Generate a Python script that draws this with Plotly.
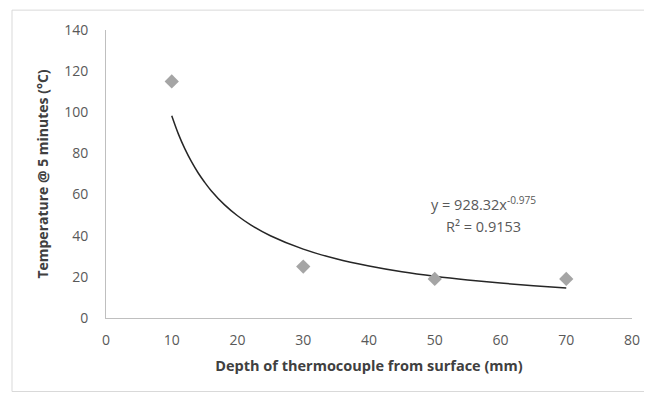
import plotly.graph_objects as go

# Measured data
depth_mm = [10, 30, 50, 70]
temp_c = [115, 25, 19, 19]

# Trendline (power fit) values
trend_x = [10, 11, 12, 13, 14, 15, 16, 18, 20, 22, 25, 30, 35, 40, 45, 50, 55, 60, 65, 70]
trend_y = [98.3, 89.5, 82.2, 76.0, 70.6, 66.0, 61.9, 55.1, 49.7, 45.3, 40.0, 33.5,
           28.8, 25.3, 22.5, 20.3, 18.5, 17.0, 15.7, 14.6]

x_ticks = [0, 10, 20, 30, 40, 50, 60, 70, 80]
y_ticks = [0, 20, 40, 60, 80, 100, 120, 140]

eq_text = "y = 928.32x<sup>-0.975</sup>"
r2_text = "R² = 0.9153"

FONT = "Open Sans, Liberation Sans, sans-serif"
GRAY = "#595959"

# page body has an 8px margin; figure is sized/placed to compensate
W, H = 644, 392
L, R, T, B = 98, 20, 20, 82
PW, PH = W - L - R, H - T - B

fig = go.Figure()
fig.add_trace(go.Scatter(
    x=trend_x, y=trend_y, mode="lines",
    line=dict(color="#262626", width=1.5, shape="spline"),
    hoverinfo="skip", showlegend=False))
fig.add_trace(go.Scatter(
    x=depth_mm, y=temp_c, mode="markers",
    marker=dict(symbol="diamond", size=11, color="#a5a5a5"),
    showlegend=False))

fig.add_annotation(x=57.4, y=55.5, xref="x", yref="y", text=eq_text,
                   showarrow=False, font=dict(family=FONT, size=14.5, color=GRAY))
fig.add_annotation(x=57.4, y=44.5, xref="x", yref="y", text=r2_text,
                   showarrow=False, font=dict(family=FONT, size=14.5, color=GRAY))

# outer chart border
fig.add_shape(type="rect", xref="paper", yref="paper",
              x0=(4 - L) / PW, x1=(W + 10 - L) / PW,
              y0=(T + PH - 384) / PH, y1=(T + PH - 0) / PH,
              line=dict(color="#d9d9d9", width=1), layer="below")

fig.update_layout(
    width=W, height=H,
    margin=dict(l=L, r=R, t=T, b=B),
    paper_bgcolor="white", plot_bgcolor="white",
    font=dict(family=FONT, size=14, color=GRAY),
    xaxis=dict(range=[0, 80], tickvals=x_ticks, showgrid=False, zeroline=False,
               showline=True, linecolor="#bfbfbf", linewidth=1, ticks="",
               ticklabelstandoff=9,
               tickfont=dict(size=14, color=GRAY),
               title=dict(text="<b>Depth of thermocouple from surface (mm)</b>",
                          font=dict(size=14.5, color="#404040"), standoff=13)),
    yaxis=dict(range=[0, 140], tickvals=y_ticks, showgrid=False, zeroline=False,
               showline=True, linecolor="#bfbfbf", linewidth=1, ticks="",
               ticklabelstandoff=14,
               tickfont=dict(size=14, color=GRAY),
               title=dict(text="<b>Temperature @ 5 minutes (°C)</b>",
                          font=dict(size=14, color="#404040"), standoff=12)),
)

fig.write_html("out.html")
